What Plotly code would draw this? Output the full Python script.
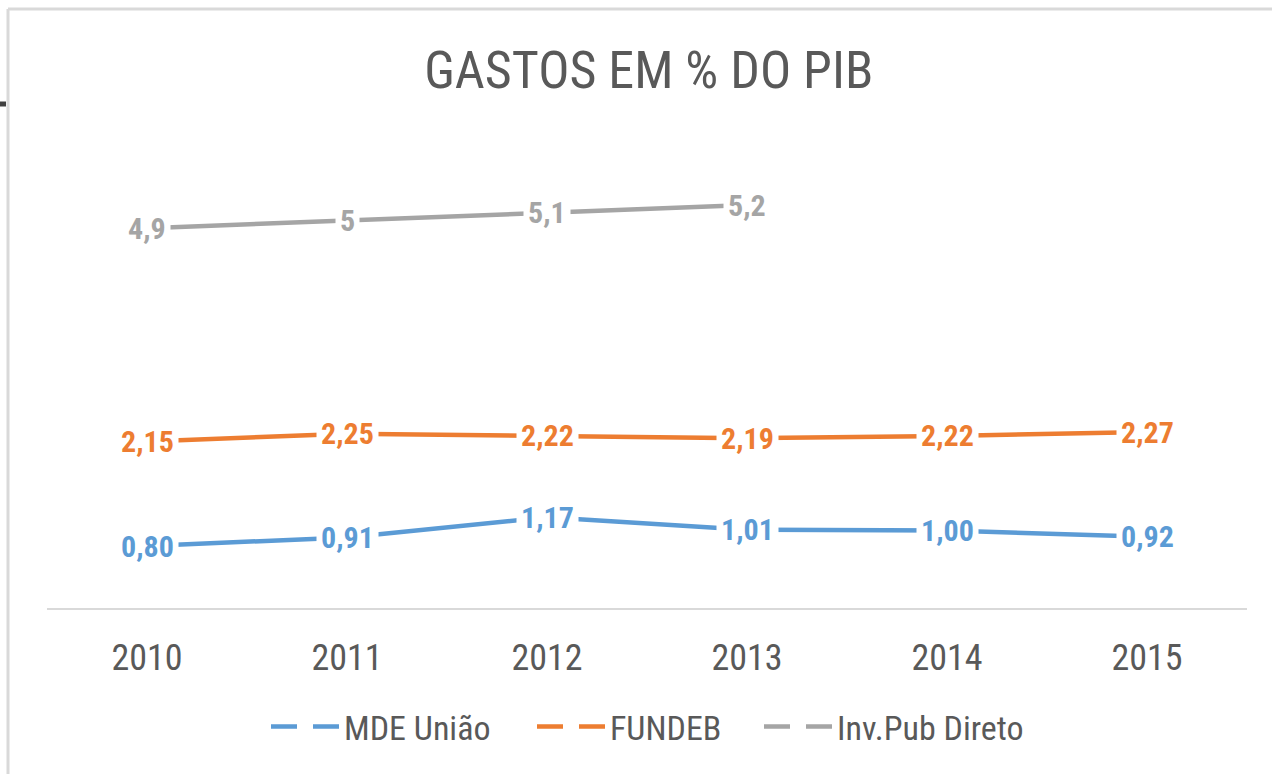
import plotly.graph_objects as go

anos = ["2010", "2011", "2012", "2013", "2014", "2015"]
mde_uniao = [0.80, 0.91, 1.17, 1.01, 1.00, 0.92]
fundeb = [2.15, 2.25, 2.22, 2.19, 2.22, 2.27]
inv_pub = [4.9, 5.0, 5.1, 5.2, None, None]

mde_labels = ["0,80", "0,91", "1,17", "1,01", "1,00", "0,92"]
fundeb_labels = ["2,15", "2,25", "2,22", "2,19", "2,22", "2,27"]
inv_labels = ["4,9", "5", "5,1", "5,2", "", ""]

colors = {
    'blue': '#5B9BD5',
    'orange': '#ED7D31',
    'gray': '#A5A5A5',
    'text': '#595959',
    'border': '#D9D9D9',
}
FONT = "Liberation Sans Narrow, Arial Narrow, Roboto Condensed, sans-serif"

series = [
    ("MDE União", mde_uniao, mde_labels, colors['blue'], "legend", 266),
    ("FUNDEB", fundeb, fundeb_labels, colors['orange'], "legend2", 532),
    ("Inv.Pub Direto", inv_pub, inv_labels, colors['gray'], "legend3", 759),
]

L, R, T, B = 47, 25, 143, 166
W, H = 1272, 774
pw = W - L - R
ph = H - T - B


def px_x(p):
    return (p - L) / pw


def px_y(p):
    return (H - B - p) / ph


fig = go.Figure()
annotations = []
legends = {}
for name, vals, labels, col, leg, lx in series:
    fig.add_trace(go.Scatter(
        x=anos, y=vals, mode="lines", name=name,
        line=dict(color=col, width=4.5), showlegend=False,
        connectgaps=False,
    ))
    # legend-only trace with dashed sample like the original
    fig.add_trace(go.Scatter(
        x=[None], y=[None], mode="lines", name=name, legend=leg,
        line=dict(color=col, width=4.5, dash="26px,16px"),
    ))
    legends[leg] = dict(
        orientation="h", x=px_x(lx), xanchor="left",
        y=px_y(727), yanchor="middle", itemwidth=68,
        bgcolor="rgba(0,0,0,0)",
        font=dict(size=34, color=colors['text'], family=FONT),
    )
    for i, (yv, lab) in enumerate(zip(vals, labels)):
        if yv is None:
            continue
        annotations.append(dict(
            x=i, y=yv, xref="x", yref="y", text="<b>%s</b>" % lab,
            showarrow=False, bgcolor="white", borderpad=4,
            font=dict(family=FONT, size=30, color=col),
        ))

fig.update_layout(
    width=W, height=H,
    paper_bgcolor="white", plot_bgcolor="white",
    margin=dict(l=L, r=R, t=T, b=B),
    font=dict(family=FONT, color=colors['text']),
    title=dict(text="GASTOS EM % DO PIB", x=0.51, xanchor="center",
               y=1 - 70 / H, yanchor="middle", yref="container",
               font=dict(size=52, color=colors['text'], family=FONT)),
    xaxis=dict(type="category", range=[-0.5, 5.5], showgrid=False,
               showline=True, linecolor=colors['border'], linewidth=2,
               ticks="", tickfont=dict(size=36, color=colors['text']),
               ticklabelstandoff=17, zeroline=False, fixedrange=True),
    yaxis=dict(range=[0, 6], showticklabels=False, showgrid=False,
               zeroline=False, showline=False, ticks="", fixedrange=True),
    annotations=annotations,
    shapes=[
        # chart-area frame: only the top and left edges are in view
        dict(type="line", xref="paper", yref="paper",
             x0=px_x(8), x1=px_x(W), y0=px_y(9), y1=px_y(9),
             line=dict(color="#D9D9D9", width=3)),
        dict(type="line", xref="paper", yref="paper",
             x0=px_x(8), x1=px_x(8), y0=px_y(9), y1=px_y(H),
             line=dict(color="#D9D9D9", width=3)),
        dict(type="line", xref="paper", yref="paper",
             x0=px_x(0), x1=px_x(6), y0=px_y(104), y1=px_y(104),
             line=dict(color="#404040", width=5)),
    ],
    **legends,
)

fig.write_html(
    "out.html",
    config={'displayModeBar': False},
    post_script="document.body.style.margin='0';document.body.style.overflow='hidden';",
)
